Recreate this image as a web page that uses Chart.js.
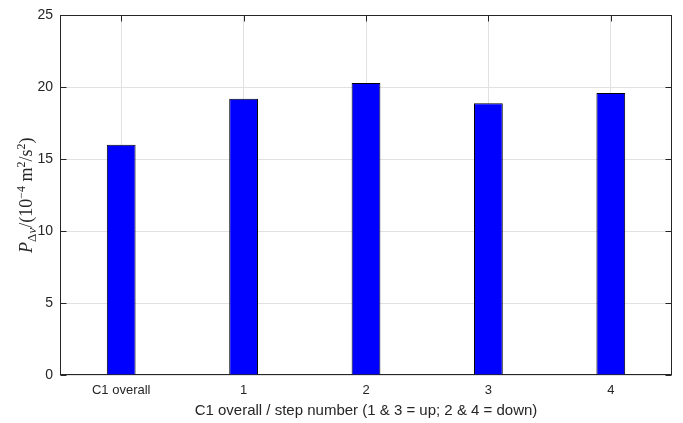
<!DOCTYPE html>
<html>
<head>
<meta charset="utf-8">
<script src="https://cdn.jsdelivr.net/npm/chart.js@4"></script>
<style>
  html, body { margin: 0; padding: 0; background: #ffffff; }
  #wrap { width: 683px; height: 423px; position: relative; }
</style>
</head>
<body>
<div id="wrap"><canvas id="chart"></canvas></div>
<script>
// Step-wise power values, in units of 1e-4 m^2/s^2
const categories = ['C1 overall', '1', '2', '3', '4'];
const powerValues = [16.0, 19.2, 20.3, 18.9, 19.6];
const yTickValues = [0, 5, 10, 15, 20, 25];
const xTitle = 'C1 overall / step number (1 & 3 = up; 2 & 4 = down)';

const TEXT = '#262626';
const GRID = '#e1e1e1';
const TICK_LEN = 6;

// Axes box, inward tick marks and the axis titles
const frame = {
  id: 'frame',
  beforeDatasetsDraw(chart) {
    const { ctx, chartArea: a, scales } = chart;
    const L = Math.round(a.left) + 0.5, R = Math.round(a.right) - 0.5;
    const T = Math.round(a.top) + 0.5, B = Math.round(a.bottom) - 0.5;
    ctx.save();
    ctx.strokeStyle = '#262626';
    ctx.lineWidth = 1;
    ctx.beginPath();
    scales.y.ticks.forEach(t => {
      const y = Math.round(scales.y.getPixelForValue(t.value)) + 0.5;
      ctx.moveTo(L, y); ctx.lineTo(L + TICK_LEN, y);
      ctx.moveTo(R, y); ctx.lineTo(R - TICK_LEN, y);
    });
    scales.x.ticks.forEach((t, i) => {
      const x = Math.round(scales.x.getPixelForTick(i)) + 0.5;
      ctx.moveTo(x, T); ctx.lineTo(x, T + TICK_LEN);
      ctx.moveTo(x, B); ctx.lineTo(x, B - TICK_LEN);
    });
    ctx.stroke();
    ctx.strokeRect(L, T, R - L, B - T);
    ctx.restore();
  },
  afterDraw(chart) {
    const { ctx, chartArea: a } = chart;
    ctx.save();
    // x-axis title
    ctx.fillStyle = TEXT;
    ctx.font = '15px "Liberation Sans", Arial, sans-serif';
    ctx.textAlign = 'center';
    ctx.textBaseline = 'middle';
    ctx.fillText(xTitle, (a.left + a.right) / 2, 411);

    // y-axis title: P_{Δv}/(10^{-4} m^2/s^2), rotated
    const base = 18, small = 13;
    const serif = '"Liberation Serif", "DejaVu Serif", serif';
    const parts = [
      { t: 'P', f: `italic ${base}px ${serif}`, dy: 0 },
      { t: 'Δ', f: `${small}px ${serif}`, dy: 4 },
      { t: 'v', f: `italic ${small}px ${serif}`, dy: 4 },
      { t: '/(10', f: `${base}px ${serif}`, dy: 0 },
      { t: '−4', f: `${small - 1}px ${serif}`, dy: -7 },
      { t: ' m', f: `${base}px ${serif}`, dy: 0 },
      { t: '2', f: `${small - 1}px ${serif}`, dy: -7 },
      { t: '/s', f: `${base}px ${serif}`, dy: 0 },
      { t: '2', f: `${small - 1}px ${serif}`, dy: -7 },
      { t: ')', f: `${base}px ${serif}`, dy: 0 }
    ];
    let total = 0;
    parts.forEach(p => { ctx.font = p.f; p.w = ctx.measureText(p.t).width; total += p.w; });
    ctx.translate(26, (a.top + a.bottom) / 2);
    ctx.rotate(-Math.PI / 2);
    ctx.textAlign = 'left';
    ctx.textBaseline = 'alphabetic';
    ctx.fillStyle = TEXT;
    let x = -total / 2;
    parts.forEach(p => {
      ctx.font = p.f;
      ctx.fillText(p.t, x, 6 + p.dy);
      x += p.w;
    });
    ctx.restore();
  }
};

new Chart(document.getElementById('chart'), {
  type: 'bar',
  data: {
    labels: categories,
    datasets: [{
      data: powerValues,
      backgroundColor: '#0000ff',
      borderColor: '#000000',
      borderWidth: 1,
      categoryPercentage: 1,
      barPercentage: 0.235
    }]
  },
  options: {
    responsive: true,
    maintainAspectRatio: false,
    animation: false,
    devicePixelRatio: 1,
    layout: { padding: { left: 0, top: 15, right: 11, bottom: 0 } },
    plugins: { legend: { display: false }, tooltip: { enabled: false } },
    scales: {
      x: {
        type: 'category',
        offset: true,
        grid: { color: GRID, drawTicks: false, offset: false },
        border: { display: false },
        ticks: {
          color: TEXT,
          font: { family: '"Liberation Sans", Arial, sans-serif', size: 13 },
          padding: 8,
          maxRotation: 0
        },
        afterFit: s => { s.height = 48; }
      },
      y: {
        min: 0,
        max: 25,
        grid: { color: GRID, drawTicks: false },
        border: { display: false },
        afterBuildTicks: s => { s.ticks = yTickValues.map(v => ({ value: v })); },
        ticks: {
          color: TEXT,
          font: { family: '"Liberation Sans", Arial, sans-serif', size: 14 },
          padding: 7
        },
        afterFit: s => { s.width = 60; }
      }
    }
  },
  plugins: [frame]
});
</script>
</body>
</html>
